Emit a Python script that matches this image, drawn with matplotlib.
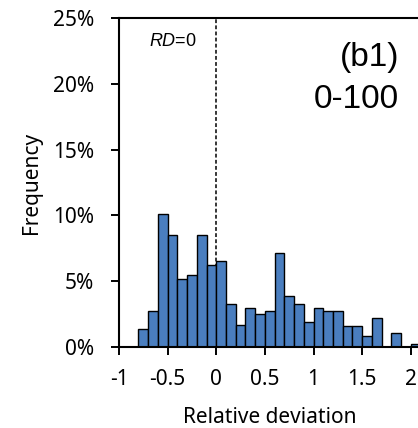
import matplotlib
matplotlib.use("Agg")
import matplotlib.pyplot as plt
from matplotlib.ticker import FuncFormatter

plt.rcParams['font.family'] = ['Noto Sans', 'DejaVu Sans']
plt.rcParams['mathtext.fontset'] = 'custom'
plt.rcParams['mathtext.rm'] = 'Liberation Sans'
plt.rcParams['mathtext.it'] = 'Liberation Sans:italic'

bin_left = [-0.8, -0.7, -0.6, -0.5, -0.4, -0.3, -0.2, -0.1, 0.0, 0.1, 0.2, 0.3, 0.4,
            0.5, 0.6, 0.7, 0.8, 0.9, 1.0, 1.1, 1.2, 1.3, 1.4, 1.5, 1.6, 1.7, 1.8, 1.9, 2.0]
freq = [1.37, 2.74, 10.1, 8.5, 5.2, 5.5, 8.5, 6.25, 6.55, 3.25, 1.65, 3.0, 2.5,
        2.74, 7.15, 3.85, 3.25, 1.93, 3.0, 2.74, 2.74, 1.62, 1.62, 0.8, 2.2, 0.0, 1.07, 0.0, 0.25]
bin_width = 0.1
x_ticks = [-1, -0.5, 0, 0.5, 1, 1.5, 2, 2.5, 3]
x_ticklabels = ['-1', '-0.5', '0', '0.5', '1', '1.5', '2', '2.5', '3']
y_ticks = [0, 5, 10, 15, 20, 25]

fig = plt.figure(figsize=(4.18, 4.28), dpi=100)
ax = fig.add_axes([119/418, 81/428, 389/418, 329/428])

ax.axvline(0, color='black', linestyle=(0, (2.5, 1.5)), linewidth=1.1, zorder=1)
ax.bar(bin_left, freq, width=bin_width, align='edge', color='#4a7ebf',
       edgecolor='black', linewidth=1.0, zorder=2)

ax.set_xlim(-1, 3)
ax.set_ylim(0, 25)
ax.set_xticks(x_ticks)
ax.set_xticklabels(x_ticklabels)
ax.set_yticks(y_ticks)
ax.yaxis.set_major_formatter(FuncFormatter(lambda v, p: f"{int(v)}%"))
ax.tick_params(axis='both', direction='out', length=6, width=1.4, labelsize=15)
ax.tick_params(axis='y', pad=12)
ax.tick_params(axis='x', pad=10)
for s in ['left', 'bottom', 'top']:
    ax.spines[s].set_linewidth(1.5)
ax.spines['right'].set_visible(False)

ax.set_ylabel('Frequency', fontsize=15)
ax.yaxis.label.set_va('baseline')
ax.yaxis.set_label_coords(-0.211, 0.50)
ax.set_xlabel('Relative deviation', fontsize=15)
ax.xaxis.label.set_va('baseline')
ax.xaxis.set_label_coords(0.388, -0.231)

ax.text(-0.45, 22.9, r'$\mathit{RD}$=0', fontsize=13, ha='center', va='baseline',
        family='Liberation Sans')
ax.text(1.88, 21.35, '(b1)', fontsize=24, ha='right', va='baseline', family='Liberation Sans')
ax.text(1.88, 18.14, '0-100', fontsize=24, ha='right', va='baseline', family='Liberation Sans')

fig.savefig('out.png', dpi=100)
